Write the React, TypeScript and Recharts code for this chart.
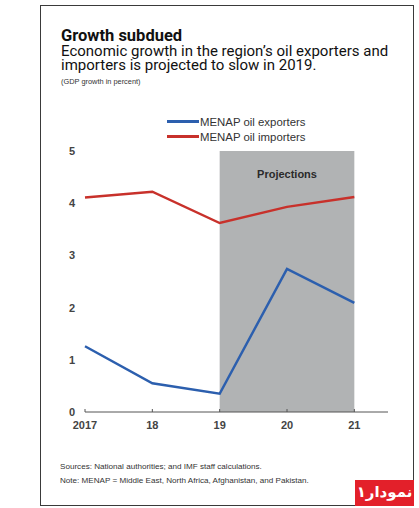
import React from 'react';
import { CartesianGrid, Line, LineChart, ReferenceArea, XAxis, YAxis } from 'recharts';

// GDP growth in percent
const years = [2017, 2018, 2019, 2020, 2021];
const exporters = [1.26, 0.55, 0.35, 2.74, 2.09];
const importers = [4.11, 4.22, 3.62, 3.93, 4.12];
const yTicks = [0, 1, 2, 3, 4, 5];
const projectionStart = 2019;
const projectionEnd = 2021;

const seriesNames = ['MENAP oil exporters', 'MENAP oil importers'];
const seriesColors = ['#2c5fae', '#c8312b'];

const data = years.map((year, i) => ({
    year,
    exporters: exporters[i],
    importers: importers[i],
}));

const font = '"Liberation Sans", Arial, sans-serif';
const titleFont = 'Roboto, "Liberation Sans", sans-serif';

function formatYear(value: number): string {
    return value === years[0] ? String(value) : String(value).slice(2);
}

export default function App(): React.JSX.Element {
    return (
        <div style={{ position: 'absolute', left: 0, top: 0, width: 419, height: 508, background: '#fff', fontFamily: font }}>
            <div style={{ position: 'absolute', left: 40, top: 5, width: 372, height: 499, border: '1.5px solid #3a3a3a' }} />

            <div style={{ position: 'absolute', left: 61, top: 28, fontFamily: titleFont, fontSize: 16.5, fontWeight: 'bold', color: '#111', lineHeight: '16px', whiteSpace: 'nowrap' }}>
                Growth subdued
            </div>
            <div style={{ position: 'absolute', left: 61, top: 44, fontFamily: titleFont, fontSize: 15, color: '#111', lineHeight: '14px', whiteSpace: 'nowrap' }}>
                Economic growth in the region’s oil exporters and
            </div>
            <div style={{ position: 'absolute', left: 61, top: 58, fontFamily: titleFont, fontSize: 15, color: '#111', lineHeight: '14px', whiteSpace: 'nowrap' }}>
                importers is projected to slow in 2019.
            </div>
            <div style={{ position: 'absolute', left: 61, top: 77, fontSize: 7.4, color: '#333', lineHeight: '9px', whiteSpace: 'nowrap' }}>
                (GDP growth in percent)
            </div>

            <div style={{ position: 'absolute', left: 167, top: 114 }}>
                {seriesNames.map((name, i) => (
                    <div key={name} style={{ display: 'flex', alignItems: 'center', height: 15, fontSize: 11.4, color: '#333' }}>
                        <span style={{ display: 'inline-block', width: 32, height: 2.5, background: seriesColors[i] }} />
                        <span style={{ marginLeft: 1 }}>{name}</span>
                    </div>
                ))}
            </div>

            <div style={{ position: 'absolute', left: 0, top: 0 }}>
                <LineChart width={419} height={508} data={data} margin={{ top: 151, right: 31, bottom: 66, left: 0 }}>
                    <CartesianGrid horizontal={false} vertical={false} />
                    <ReferenceArea
                        x1={projectionStart}
                        x2={projectionEnd}
                        y1={0}
                        y2={5}
                        fill="#b1b3b4"
                        fillOpacity={1}
                        stroke="none"
                        label={{ value: 'Projections', position: 'insideTop', offset: 19, fill: '#2a2a2a', fontSize: 11, fontWeight: 'bold', fontFamily: font }}
                    />
                    <XAxis
                        dataKey="year"
                        type="number"
                        domain={[2017, 2021.5]}
                        ticks={years}
                        tickFormatter={formatYear}
                        axisLine={{ stroke: '#555', strokeWidth: 1 }}
                        tickLine={{ stroke: '#555' }}
                        tickSize={-3}
                        tickMargin={12}
                        height={30}
                        tick={{ fill: '#444', fontSize: 11, fontWeight: 'bold', fontFamily: font }}
                    />
                    <YAxis
                        type="number"
                        domain={[0, 5]}
                        ticks={yTicks}
                        axisLine={false}
                        tickLine={false}
                        tickSize={0}
                        tickMargin={10}
                        width={85}
                        tick={{ fill: '#444', fontSize: 11, fontWeight: 'bold', fontFamily: font }}
                    />
                    <Line
                        dataKey="exporters"
                        stroke={seriesColors[0]}
                        strokeWidth={2.5}
                        dot={false}
                        type="linear"
                        isAnimationActive={false}
                    />
                    <Line
                        dataKey="importers"
                        stroke={seriesColors[1]}
                        strokeWidth={2.5}
                        dot={false}
                        type="linear"
                        isAnimationActive={false}
                    />
                </LineChart>
            </div>

            <div style={{ position: 'absolute', left: 60, top: 460, fontSize: 8.1, color: '#333', lineHeight: '14px', whiteSpace: 'nowrap' }}>
                Sources: National authorities; and IMF staff calculations.
                <br />
                Note: MENAP = Middle East, North Africa, Afghanistan, and Pakistan.
            </div>

            <div
                dir="rtl"
                style={{
                    position: 'absolute', left: 355, top: 480, width: 59, height: 26, background: '#e3202a',
                    color: '#fff', fontFamily: '"DejaVu Sans", sans-serif', fontWeight: 'bold', fontSize: 15,
                    lineHeight: '25px', textAlign: 'center', whiteSpace: 'nowrap',
                }}
            >
                نمودار۱
            </div>
        </div>
    );
}
